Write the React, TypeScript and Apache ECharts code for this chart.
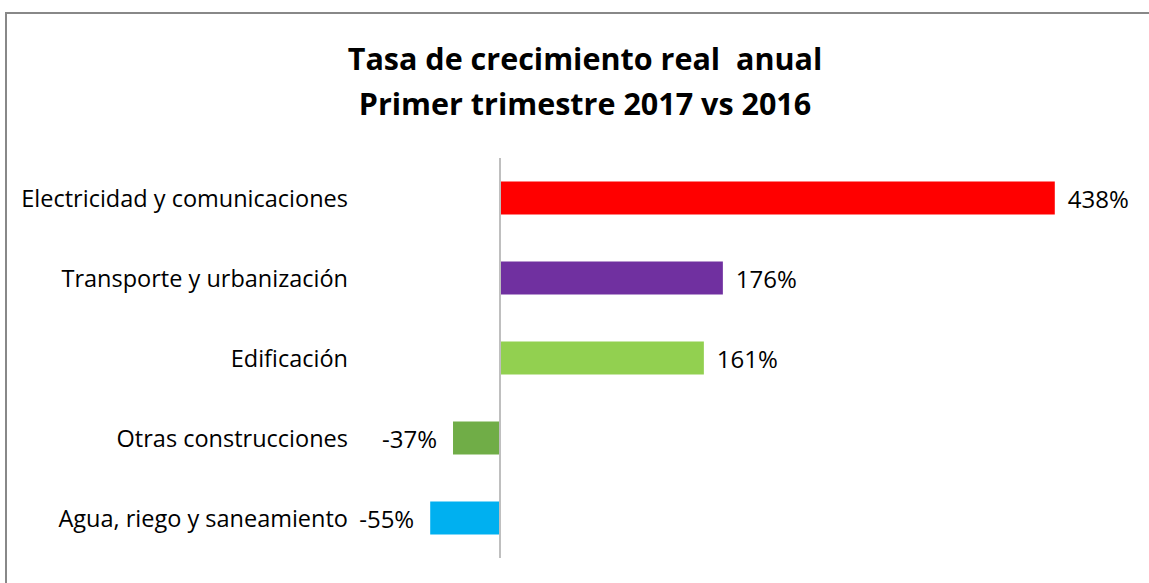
import React, { useEffect, useRef } from "react";
import * as echarts from "echarts";

const categories = [
  "Agua, riego y saneamiento",
  "Otras construcciones",
  "Edificación",
  "Transporte y urbanización",
  "Electricidad y comunicaciones",
];
const values = [-55, -37, 161, 176, 438];
const colors = ["#00B0F0", "#70AD47", "#92D050", "#7030A0", "#FF0000"];
const titleLines = ["Tasa de crecimiento real  anual", "Primer trimestre 2017 vs 2016"];

const FONT = "'Open Sans', sans-serif";

export default function App() {
  const ref = useRef<HTMLDivElement>(null);
  useEffect(() => {
    const chart = echarts.init(ref.current!, undefined, { renderer: "svg" });
    chart.setOption({
      animation: false,
      backgroundColor: "#fff",
      title: {
        text: titleLines.join("\n"),
        left: 580,
        textAlign: "center",
        top: 30,
        textStyle: {
          fontFamily: FONT,
          fontWeight: "bold",
          fontSize: 30.5,
          lineHeight: 45,
          color: "#000",
        },
      },
      graphic: [
        {
          type: "polyline",
          shape: { points: [[6, 600], [6, 13], [1160, 13]] },
          style: { stroke: "#888", lineWidth: 2, fill: "none" },
          silent: true,
        },
      ],
      grid: { left: 358, right: 41, top: 158, bottom: 25, containLabel: false },
      xAxis: {
        type: "value",
        min: -112,
        max: 480,
        show: false,
      },
      yAxis: {
        type: "category",
        data: categories,
        axisLine: { show: false, onZero: false },
        axisTick: { show: false },
        axisLabel: {
          margin: 10,
          fontFamily: FONT,
          fontSize: 23.5,
          color: "#000",
        },
      },
      series: [
        {
          type: "bar",
          barWidth: 33,
          data: values.map((v, i) => ({
            value: v,
            itemStyle: { color: colors[i] },
            label: {
              show: true,
              position: v >= 0 ? "right" : "left",
              distance: v >= 0 ? 13 : 16,
              formatter: "{c}%",
              fontFamily: FONT,
              fontSize: 24,
              color: "#000",
            },
          })),
          markLine: {
            silent: true,
            symbol: "none",
            label: { show: false },
            lineStyle: { color: "#BFBFBF", width: 2, type: "solid" },
            data: [{ xAxis: 0 }],
          },
        },
      ],
    });
    return () => chart.dispose();
  }, []);
  return <div ref={ref} style={{ width: 1149, height: 583, position: "absolute", left: 0, top: 0 }} />;
}
